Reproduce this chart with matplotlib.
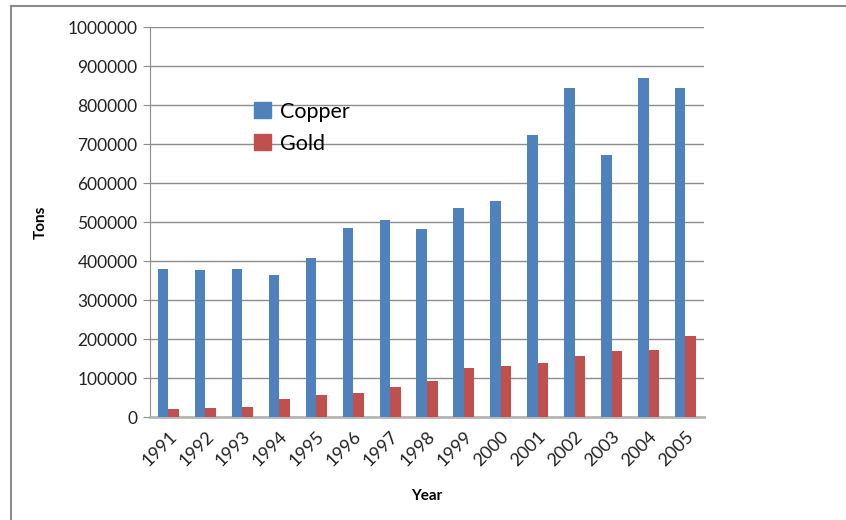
import matplotlib.pyplot as plt
import numpy as np
from matplotlib.patches import Patch
from matplotlib.lines import Line2D
from matplotlib.ticker import StrMethodFormatter

years = ["1991", "1992", "1993", "1994", "1995", "1996", "1997", "1998",
         "1999", "2000", "2001", "2002", "2003", "2004", "2005"]
copper = [380000, 378000, 380000, 364000, 409000, 485000, 504000, 483000,
          535000, 554000, 722000, 844000, 671000, 869000, 844000]
gold = [20000, 22000, 27000, 45000, 56000, 62000, 77000, 92000,
        127000, 130000, 138000, 156000, 170000, 172000, 207000]

plt.rcParams['font.family'] = ['Lato', 'DejaVu Sans']

fig = plt.figure(figsize=(8.46, 5.20), dpi=100)
ax = fig.add_axes([0.1773, 0.198, 0.6548, 0.75])

x = np.arange(len(years))
w = 0.285
ax.bar(x - w / 2, copper, w, color='#4F81BD', label='Copper', zorder=3)
ax.bar(x + w / 2, gold, w, color='#C0504D', label='Gold', zorder=3)

ax.set_xlim(-0.5, len(years) - 0.5)
ax.set_ylim(0, 1000000)
ax.set_yticks(np.arange(0, 1000001, 100000))
ax.yaxis.set_major_formatter(StrMethodFormatter("{x:.0f}"))
ax.yaxis.grid(True, color='#8c8c8c', linewidth=1, zorder=0)
ax.set_axisbelow(True)

ax.set_xticks(x)
ax.set_xticklabels(years, rotation=45, ha='right', rotation_mode='anchor',
                   fontsize=13, color='#222222')
ax.tick_params(axis='x', length=0, pad=8)
ax.tick_params(axis='y', length=5, color='#8c8c8c', labelsize=12.5,
               labelcolor='#222222', pad=4)

for side in ['top', 'right']:
    ax.spines[side].set_visible(False)
ax.spines['left'].set_color('#8c8c8c')
ax.spines['bottom'].set_color('#b5b5b5')
ax.spines['bottom'].set_linewidth(2)

ax.set_ylabel("Tons", fontsize=11, fontweight='bold', labelpad=14)
ax.set_xlabel("Year", fontsize=11, fontweight='bold', labelpad=14)

handles = [Patch(color='#4F81BD', label='Copper'), Patch(color='#C0504D', label='Gold')]
fig.legend(handles=handles, loc='upper left', bbox_to_anchor=(0.288, 0.825),
           frameon=False, fontsize=15.5, handlelength=0.75, handleheight=0.75,
           handletextpad=0.45, labelspacing=0.55, borderpad=0)

# outer frame
fig.add_artist(Line2D([0.013, 1.0], [0.989, 0.989], color='#8c8c8c', linewidth=1.5))
fig.add_artist(Line2D([0.013, 0.013], [0.0, 0.989], color='#8c8c8c', linewidth=1.5))

plt.savefig("out.png", dpi=100)
